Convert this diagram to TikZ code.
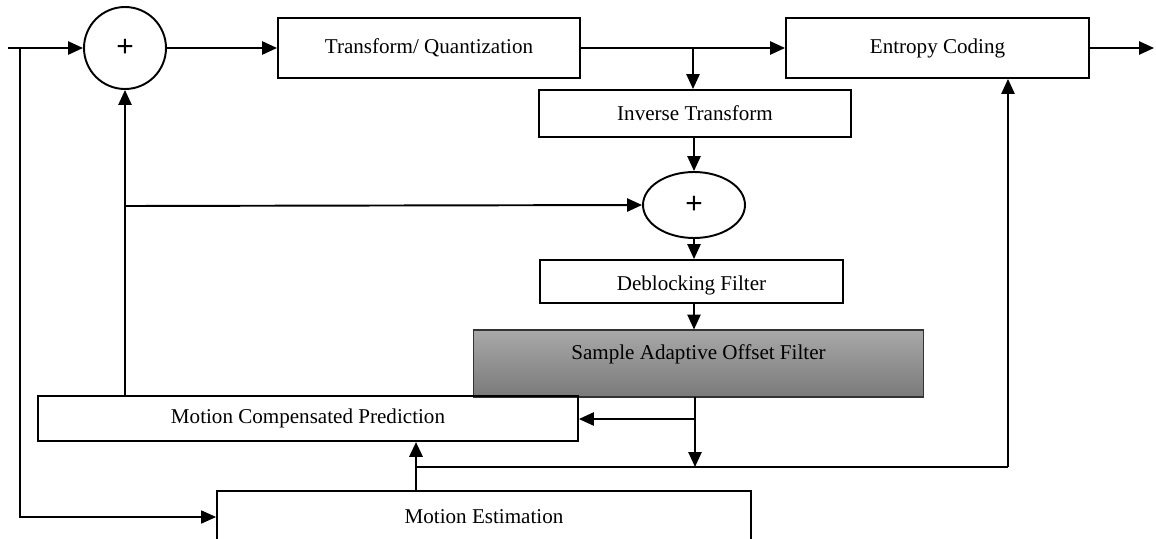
\documentclass[tikz,border=0pt]{standalone}
\usepackage{fontspec}
\setmainfont{Liberation Serif}
\newfontfamily\plusfont{Liberation Sans}
\usetikzlibrary{arrows.meta,shapes.geometric}
\definecolor{saotop}{RGB}{168,168,168}
\definecolor{saobot}{RGB}{122,122,122}

\begin{document}
\begin{tikzpicture}[x=0.02cm, y=-0.02cm,
    bloco/.style={draw, line width=1.1pt, inner sep=0pt, font=\fontsize{12}{14}\selectfont},
    soma/.style={draw, line width=1.1pt, inner sep=0pt, font=\plusfont\fontsize{17}{19}\selectfont},
    seta/.style={line width=1.1pt, -{Triangle[length=8.5pt,width=7.5pt]}},
    fina/.style={line width=0.6pt}]
      \useasboundingbox (0,0) rectangle (1156,538);

      % Somadores
      \node[soma, circle, minimum size=1.64cm] (add1) at (125,48) {+};
      \node[soma, ellipse, minimum width=2.04cm, minimum height=1.32cm] (add2) at (694,205) {+};

      % Blocos
      \node[bloco, minimum width=6.04cm, minimum height=1.2cm] (tq) at (429,48) {Transform/ Quantization};
      \node[bloco, minimum width=6.06cm, minimum height=1.2cm] (ec) at (937.5,48) {Entropy Coding};
      \node[bloco, minimum width=6.24cm, minimum height=0.94cm] (it) at (695,113.5) {Inverse Transform};
      \node[bloco, minimum width=6.06cm, minimum height=0.86cm, text height=0.45cm] (df) at (691.5,281.5) {Deblocking Filter};
      \node[bloco, line width=0.6pt, draw=black!80, top color=saotop, bottom color=saobot,
            minimum width=9.02cm, minimum height=1.34cm, text depth=0.45cm] (sao) at (698.5,363.5) {Sample Adaptive Offset Filter};
      \node[bloco, minimum width=10.8cm, minimum height=0.9cm] (mcp) at (308,418.5) {Motion Compensated Prediction};
      \node[bloco, minimum width=10.68cm, minimum height=1.04cm] (me) at (484,517) {Motion Estimation};

      % Pontos auxiliares
      \coordinate (in)  at (8,48);
      \coordinate (out) at (1154,48);
      \coordinate (f1)  at (20,48);
      \coordinate (b1)  at (693,48);
      \coordinate (b2)  at (125,206);
      \coordinate (s1)  at (695,397);
      \coordinate (s2)  at (695,419);
      \coordinate (s3)  at (695,467);
      \coordinate (m1)  at (416,467);
      \coordinate (e1)  at (1008,467);

      % Caminho direto
      \draw[seta] (in) -- (add1.west);
      \draw[seta] (add1.east) -- (tq.west);
      \draw[seta] (tq.east) -- (ec.west);
      \draw[seta] (ec.east) -- (out);
      \draw[seta] (b1) -- (b1 |- it.north);

      % Reconstrucao
      \draw[seta] (it.south -| add2) -- (add2.north);
      \draw[seta] (add2.south) -- (add2.south |- df.north);
      \draw[seta] (df.south -| add2) -- (add2 |- sao.north);

      % Predicao
      \draw[seta] (add1 |- mcp.north) -- (add1.south);
      \draw[seta] (b2) -- (add2.west);
      \draw[fina] (s1) -- (s2);
      \draw[seta] (s2) -- (s2 -| mcp.east);
      \draw[seta] (s2) -- (s3);
      \draw[fina] (m1) -- (e1);
      \draw[seta] (e1) -- (e1 |- ec.south);
      \draw[seta, line width=1.6pt] (me.north -| m1) -- (mcp.south -| m1);
      \draw[fina, -{Triangle[length=8.5pt,width=7.5pt]}] (f1) |- (me.west);

    \end{tikzpicture}
\end{document}
